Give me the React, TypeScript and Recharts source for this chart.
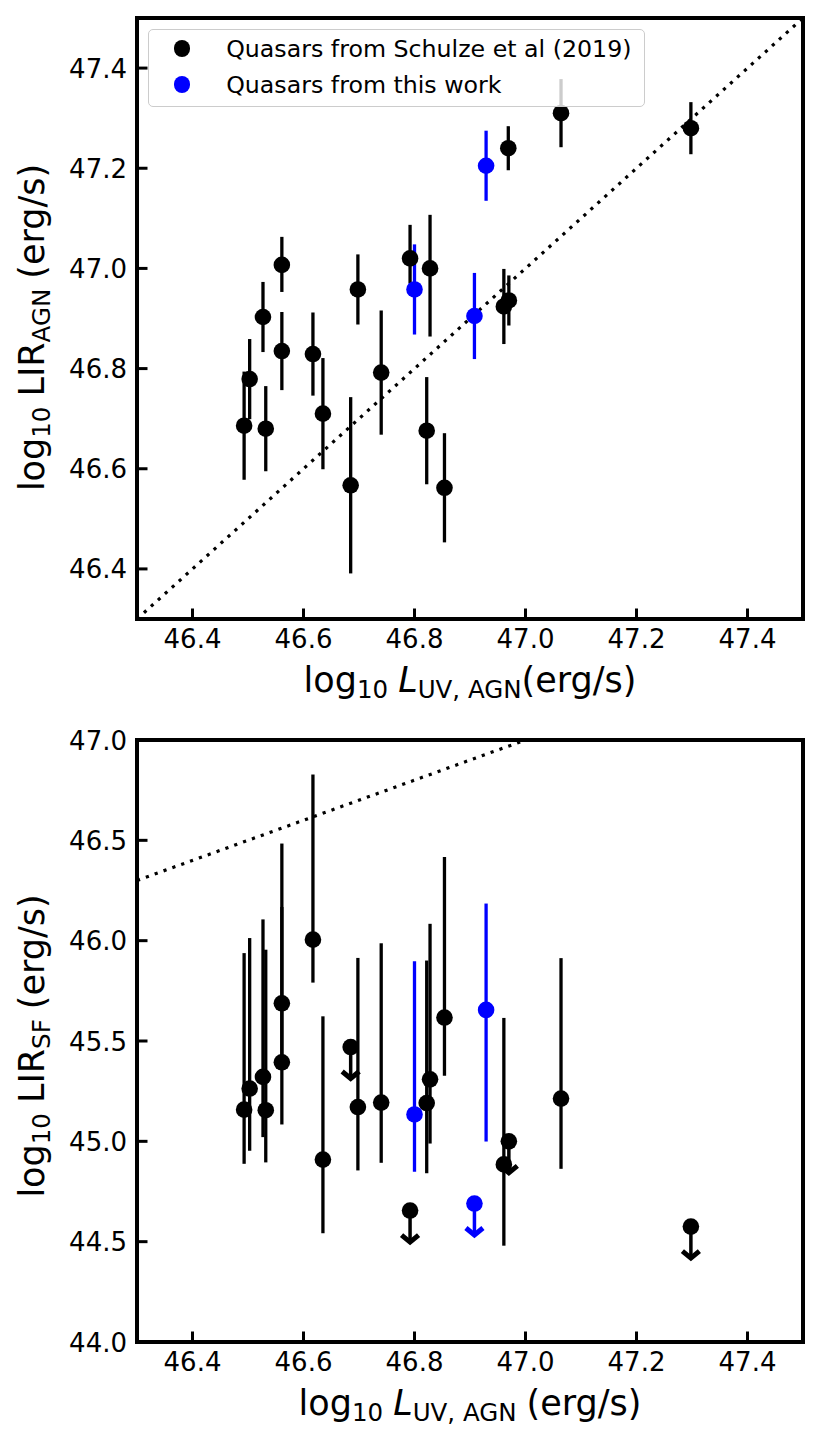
import React from 'react';
import {
  ScatterChart,
  Scatter,
  XAxis,
  YAxis,
  ErrorBar,
  ReferenceLine,
  ReferenceArea,
  Legend,
} from 'recharts';

// ---------- data ----------
// Quasars from Schulze et al (2019)
const schulzeLuv = [46.493, 46.503, 46.527, 46.532, 46.561, 46.561, 46.617, 46.635, 46.685, 46.698, 46.74, 46.792, 46.822, 46.828, 46.854, 46.961, 46.97, 46.969, 47.064, 47.298];
const schulzeLirAgn = [46.686, 46.779, 46.903, 46.68, 47.007, 46.835, 46.829, 46.71, 46.567, 46.958, 46.792, 47.02, 46.676, 47.0, 46.562, 46.924, 46.936, 47.24, 47.31, 47.28];
const schulzeLirAgnErrLo = [0.108, 0.08, 0.07, 0.085, 0.054, 0.078, 0.083, 0.111, 0.176, 0.07, 0.124, 0.05, 0.107, 0.136, 0.109, 0.075, 0.05, 0.044, 0.068, 0.052];
const schulzeLirAgnErrHi = [0.108, 0.08, 0.07, 0.085, 0.056, 0.078, 0.083, 0.111, 0.176, 0.07, 0.124, 0.067, 0.107, 0.107, 0.109, 0.075, 0.05, 0.044, 0.068, 0.052];
const schulzeLirSf = [45.158, 45.263, 45.321, 45.155, 45.688, 45.394, 46.005, 44.909, 45.47, 45.171, 45.193, 44.655, 45.191, 45.309, 45.617, 44.885, 45.0, null, 45.213, 44.575];
const schulzeLirSfErrLo = [0.27, 0.31, 0.3, 0.26, 0.3, 0.31, 0.214, 0.367, 0, 0.316, 0.3, 0, 0.35, 0.32, 0.29, 0.405, 0, 0, 0.35, 0];
const schulzeLirSfErrHi = [0.78, 0.75, 0.785, 0.8, 0.796, 0.774, 0.823, 0.714, 0, 0.743, 0.794, 0, 0.71, 0.775, 0.8, 0.73, 0, 0, 0.7, 0];
const schulzeLirSfUpperLimit = [false, false, false, false, false, false, false, false, true, false, false, true, false, false, false, false, true, false, false, true];

// Quasars from this work
const thisWorkLuv = [46.8, 46.908, 46.929];
const thisWorkLirAgn = [46.958, 46.905, 47.205];
const thisWorkLirAgnErr = [0.09, 0.086, 0.07];
const thisWorkLirSf = [45.134, 44.69, 45.655];
const thisWorkLirSfErrLo = [0.286, 0, 0.656];
const thisWorkLirSfErrHi = [0.764, 0, 0.53];
const thisWorkLirSfUpperLimit = [false, true, false];

// axes
const xDomain = [46.3, 47.5];
const xTicks = [46.4, 46.6, 46.8, 47.0, 47.2, 47.4];
const topYDomain = [46.3, 47.5];
const topYTicks = [46.4, 46.6, 46.8, 47.0, 47.2, 47.4];
const bottomYDomain = [44.0, 47.0];
const bottomYTicks = [44.0, 44.5, 45.0, 45.5, 46.0, 46.5, 47.0];
const oneToOneTop = [46.3, 47.5];
const oneToOneBottom = [46.3, 47.0];

const SCHULZE_NAME = 'Quasars from Schulze et al (2019)';
const THIS_WORK_NAME = 'Quasars from this work';
const BLACK = '#000000';
const BLUE = '#0000ff';

// ---------- derived tables ----------
const topSchulze = schulzeLuv.map((x, i) => ({ x, y: schulzeLirAgn[i], err: [schulzeLirAgnErrLo[i], schulzeLirAgnErrHi[i]] }));
const topThisWork = thisWorkLuv.map((x, i) => ({ x, y: thisWorkLirAgn[i], err: [thisWorkLirAgnErr[i], thisWorkLirAgnErr[i]] }));

const bottomSchulze = schulzeLuv
  .map((x, i) => ({ x, y: schulzeLirSf[i], err: [schulzeLirSfErrLo[i], schulzeLirSfErrHi[i]], ul: schulzeLirSfUpperLimit[i] }))
  .filter((d) => d.y !== null && !d.ul);
const bottomSchulzeUL = schulzeLuv
  .map((x, i) => ({ x, y: schulzeLirSf[i], ul: schulzeLirSfUpperLimit[i] }))
  .filter((d) => d.y !== null && d.ul);
const bottomThisWork = thisWorkLuv
  .map((x, i) => ({ x, y: thisWorkLirSf[i], err: [thisWorkLirSfErrLo[i], thisWorkLirSfErrHi[i]], ul: thisWorkLirSfUpperLimit[i] }))
  .filter((d) => !d.ul);
const bottomThisWorkUL = thisWorkLuv
  .map((x, i) => ({ x, y: thisWorkLirSf[i], ul: thisWorkLirSfUpperLimit[i] }))
  .filter((d) => d.ul);

const legendItems = [
  { label: SCHULZE_NAME, color: BLACK },
  { label: THIS_WORK_NAME, color: BLUE },
];

// ---------- styling helpers ----------
const FONT = '"DejaVu Sans", sans-serif';
const TICK_FONT = 26;
const LABEL_FONT = 35;
const SUB_FONT = 24.5;
const SUB_DY = 6;
const MARKER_R = 8.3;

const dotShape = (color: string) => (props: any) => (
  <circle cx={props.cx} cy={props.cy} r={MARKER_R} fill={color} />
);

const upperLimitShape = (color: string) => (props: any) => {
  const { cx, cy } = props;
  const tip = cy + 33;
  return (
    <g>
      <line x1={cx} y1={cy} x2={cx} y2={tip - 3} stroke={color} strokeWidth={3.5} />
      <path
        d={`M${cx - 8.5},${tip - 8.5} L${cx},${tip - 1.5} L${cx + 8.5},${tip - 8.5}`}
        stroke={color}
        strokeWidth={5}
        fill="none"
        strokeLinejoin="miter"
      />
      <circle cx={cx} cy={cy} r={MARKER_R} fill={color} />
    </g>
  );
};

const XTick = (props: any) => {
  const { x, y, payload } = props;
  return (
    <g>
      <line x1={x} y1={y} x2={x} y2={y - 10.5} stroke="#000" strokeWidth={3} />
      <text x={x} y={y + 29} textAnchor="middle" fontSize={TICK_FONT} fontFamily={FONT} fill="#000">
        {Number(payload.value).toFixed(1)}
      </text>
    </g>
  );
};

const YTick = (props: any) => {
  const { x, y, payload } = props;
  return (
    <g>
      <line x1={x} y1={y} x2={x + 10.5} y2={y} stroke="#000" strokeWidth={3} />
      <text x={x - 10} y={y + 9.5} textAnchor="end" fontSize={TICK_FONT} fontFamily={FONT} fill="#000">
        {Number(payload.value).toFixed(1)}
      </text>
    </g>
  );
};

const XTitle = (props: any) => {
  const { viewBox, spaceBeforeUnit } = props;
  const cx = viewBox.x + viewBox.width / 2;
  const y = viewBox.y + 73;
  return (
    <text x={cx} y={y} textAnchor="middle" fontSize={LABEL_FONT} fontFamily={FONT} fill="#000">
      <tspan>log</tspan>
      <tspan fontSize={SUB_FONT} dy={SUB_DY}>10</tspan>
      <tspan dy={-SUB_DY} dx={10} fontStyle="italic">L</tspan>
      <tspan fontSize={SUB_FONT} dy={SUB_DY}>UV, AGN</tspan>
      <tspan dy={-SUB_DY} dx={spaceBeforeUnit ? 10 : 0}>(erg/s)</tspan>
    </text>
  );
};

const YTitle = (props: any) => {
  const { viewBox, sub, shift } = props;
  const x = 43.5;
  const cy = viewBox.y + viewBox.height / 2 + shift;
  return (
    <text
      x={x}
      y={cy}
      transform={`rotate(-90 ${x} ${cy})`}
      textAnchor="middle"
      fontSize={LABEL_FONT}
      fontFamily={FONT}
      fill="#000"
    >
      <tspan>log</tspan>
      <tspan fontSize={SUB_FONT} dy={SUB_DY}>10</tspan>
      <tspan dy={-SUB_DY} dx={10}>LIR</tspan>
      <tspan fontSize={SUB_FONT} dy={SUB_DY}>{sub}</tspan>
      <tspan dy={-SUB_DY} dx={10}>(erg/s)</tspan>
    </text>
  );
};

const LegendBox = () => (
  <div
    style={{
      position: 'relative',
      width: 497,
      height: 77.5,
      boxSizing: 'border-box',
      border: '1.5px solid #cccccc',
      borderRadius: 5,
      background: 'rgba(255,255,255,0.8)',
      fontFamily: FONT,
      fontSize: 23.7,
      color: '#000',
    }}
  >
    {legendItems.map((item, i) => {
      const rowCenter = 20 + 35.7 * i - 1.5;
      return (
        <React.Fragment key={item.label}>
          <div
            style={{
              position: 'absolute',
              left: 34.4 - MARKER_R - 1.5,
              top: rowCenter - MARKER_R,
              width: MARKER_R * 2,
              height: MARKER_R * 2,
              borderRadius: '50%',
              background: item.color,
            }}
          />
          <div
            style={{
              position: 'absolute',
              left: 78.4 - 1.5,
              top: rowCenter - 13.5,
              lineHeight: '28px',
              whiteSpace: 'nowrap',
            }}
          >
            {item.label}
          </div>
        </React.Fragment>
      );
    })}
  </div>
);

const frame = (yDomain: number[]) => (
  <ReferenceArea
    x1={xDomain[0]}
    x2={xDomain[1]}
    y1={yDomain[0]}
    y2={yDomain[1]}
    fill="none"
    fillOpacity={0}
    stroke="#000"
    strokeWidth={4}
    ifOverflow="visible"
  />
);

export default function App() {
  return (
    <div style={{ position: 'absolute', left: 0, top: 0, width: 821, height: 1443, background: '#fff' }}>
      {/* top panel */}
      <div style={{ position: 'absolute', left: 0, top: 0 }}>
        <ScatterChart width={821} height={720} margin={{ top: 18, right: 18, bottom: 0, left: 0 }}>
          <XAxis
            type="number"
            dataKey="x"
            domain={xDomain}
            ticks={xTicks}
            allowDataOverflow
            interval={0}
            height={101}
            tickSize={0}
            tickMargin={0}
            axisLine={false}
            tickLine={false}
            tick={<XTick />}
            label={<XTitle spaceBeforeUnit={false} />}
          />
          <YAxis
            type="number"
            dataKey="y"
            domain={topYDomain}
            ticks={topYTicks}
            allowDataOverflow
            interval={0}
            width={137}
            tickSize={0}
            tickMargin={0}
            axisLine={false}
            tickLine={false}
            tick={<YTick />}
            label={<YTitle sub="AGN" shift={9} />}
          />
          <ReferenceLine
            segment={[
              { x: oneToOneTop[0], y: oneToOneTop[0] },
              { x: oneToOneTop[1], y: oneToOneTop[1] },
            ]}
            stroke="#000"
            strokeWidth={3.2}
            strokeDasharray="3.2 6.2"
            ifOverflow="visible"
          />
          <Scatter name={SCHULZE_NAME} data={topSchulze} fill={BLACK} shape={dotShape(BLACK)} isAnimationActive={false}>
            <ErrorBar dataKey="err" direction="y" width={0} stroke={BLACK} strokeWidth={3.3} />
          </Scatter>
          <Scatter name={THIS_WORK_NAME} data={topThisWork} fill={BLUE} shape={dotShape(BLUE)} isAnimationActive={false}>
            <ErrorBar dataKey="err" direction="y" width={0} stroke={BLUE} strokeWidth={3.3} />
          </Scatter>
          {frame(topYDomain)}
          <Legend
            layout="vertical"
            align="center"
            verticalAlign="middle"
            content={<LegendBox />}
            wrapperStyle={{ position: 'absolute', left: 148.3, top: 29.3, width: 497, height: 77.5 }}
          />
        </ScatterChart>
      </div>

      {/* bottom panel */}
      <div style={{ position: 'absolute', left: 0, top: 720 }}>
        <ScatterChart width={821} height={723} margin={{ top: 20, right: 18, bottom: 0, left: 0 }}>
          <XAxis
            type="number"
            dataKey="x"
            domain={xDomain}
            ticks={xTicks}
            allowDataOverflow
            interval={0}
            height={101}
            tickSize={0}
            tickMargin={0}
            axisLine={false}
            tickLine={false}
            tick={<XTick />}
            label={<XTitle spaceBeforeUnit={true} />}
          />
          <YAxis
            type="number"
            dataKey="y"
            domain={bottomYDomain}
            ticks={bottomYTicks}
            allowDataOverflow
            interval={0}
            width={137}
            tickSize={0}
            tickMargin={0}
            axisLine={false}
            tickLine={false}
            tick={<YTick />}
            label={<YTitle sub="SF" shift={5} />}
          />
          <ReferenceLine
            segment={[
              { x: oneToOneBottom[0], y: oneToOneBottom[0] },
              { x: oneToOneBottom[1], y: oneToOneBottom[1] },
            ]}
            stroke="#000"
            strokeWidth={3.2}
            strokeDasharray="3.2 6.2"
            ifOverflow="visible"
          />
          <Scatter name={SCHULZE_NAME} data={bottomSchulze} fill={BLACK} shape={dotShape(BLACK)} isAnimationActive={false}>
            <ErrorBar dataKey="err" direction="y" width={0} stroke={BLACK} strokeWidth={3.3} />
          </Scatter>
          <Scatter name={SCHULZE_NAME + ' UL'} data={bottomSchulzeUL} fill={BLACK} shape={upperLimitShape(BLACK)} legendType="none" isAnimationActive={false} />
          <Scatter name={THIS_WORK_NAME} data={bottomThisWork} fill={BLUE} shape={dotShape(BLUE)} isAnimationActive={false}>
            <ErrorBar dataKey="err" direction="y" width={0} stroke={BLUE} strokeWidth={3.3} />
          </Scatter>
          <Scatter name={THIS_WORK_NAME + ' UL'} data={bottomThisWorkUL} fill={BLUE} shape={upperLimitShape(BLUE)} legendType="none" isAnimationActive={false} />
          {frame(bottomYDomain)}
        </ScatterChart>
      </div>
    </div>
  );
}
